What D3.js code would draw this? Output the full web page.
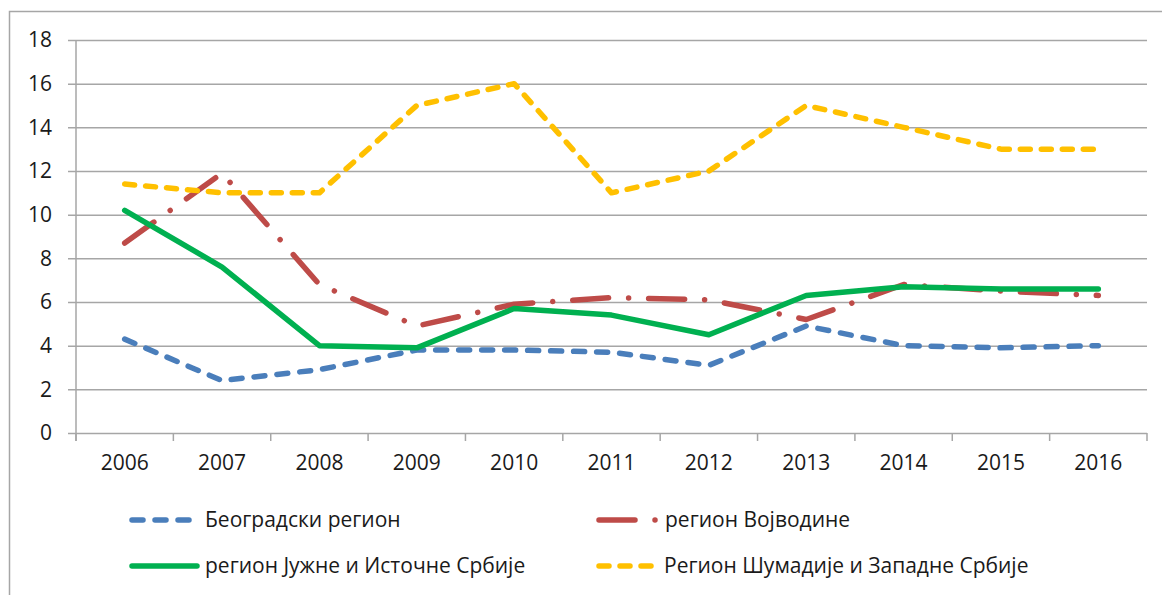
<!DOCTYPE html>
<html>
<head>
<meta charset="utf-8">
<script src="https://cdn.jsdelivr.net/npm/d3@7"></script>
<style>
  body { margin: 0; background: #fff; }
  text { font-family: "Open Sans", "Noto Sans", sans-serif; fill: #1a1a1a; }
</style>
</head>
<body>
<div id="chart"></div>
<script>
var years = ["2006", "2007", "2008", "2009", "2010", "2011", "2012", "2013", "2014", "2015", "2016"];
var yTicks = [0, 2, 4, 6, 8, 10, 12, 14, 16, 18];

var beograd = [4.3, 2.4, 2.9, 3.8, 3.8, 3.7, 3.1, 4.9, 4.0, 3.9, 4.0];
var vojvodina = [8.7, 11.9, 6.8, 4.9, 5.9, 6.2, 6.1, 5.2, 6.8, 6.5, 6.3];
var jug = [10.2, 7.6, 4.0, 3.9, 5.7, 5.4, 4.5, 6.3, 6.7, 6.6, 6.6];
var sumadija = [11.4, 11.0, 11.0, 15.0, 16.0, 11.0, 12.0, 15.0, 14.0, 13.0, 13.0];

var seriesNames = ["Београдски регион", "регион Војводине", "регион Јужне и Источне Србије", "Регион Шумадије и Западне Србије"];

var series = [
  { name: seriesNames[0], values: beograd, color: "#4a7ebb", dash: "11,12" },
  { name: seriesNames[1], values: vojvodina, color: "#be4b48", dash: "36,20,0.01,20" },
  { name: seriesNames[2], values: jug, color: "#00b050", dash: null },
  { name: seriesNames[3], values: sumadija, color: "#ffc000", dash: "10,11" }
];

var svgWidth = 1162;
var svgHeight = 595;
var fontSize = "21px";

var svg = d3.select("#chart")
  .append("svg")
  .attr("width", svgWidth)
  .attr("height", svgHeight);

// outer border
svg.append("rect")
  .attr("x", 9.5)
  .attr("y", 11.5)
  .attr("width", 1170)
  .attr("height", 600)
  .attr("fill", "none")
  .attr("stroke", "#a6a6a6")
  .attr("stroke-width", 1.5);

var plot = { left: 76, right: 1147, top: 40, bottom: 433 };

var xScale = d3.scaleBand()
  .domain(years)
  .range([plot.left, plot.right])
  .paddingInner(0)
  .paddingOuter(0);

var yScale = d3.scaleLinear()
  .domain([0, 18])
  .range([plot.bottom, plot.top]);

// gridlines + left axis
var leftAxis = d3.axisLeft(yScale)
  .tickValues(yTicks)
  .tickSize(-(plot.right - plot.left + 8))
  .tickPadding(16);

var yAxisG = svg.append("g")
  .attr("transform", `translate(${plot.left - 8}, 0)`)
  .call(leftAxis);
yAxisG.select(".domain").remove();
yAxisG.selectAll(".tick line")
  .attr("stroke", "#a6a6a6")
  .attr("stroke-width", 1.5);
yAxisG.selectAll(".tick text")
  .attr("font-size", fontSize)
  .attr("fill", "#1a1a1a");

// vertical axis line
svg.append("line")
  .attr("x1", plot.left).attr("x2", plot.left)
  .attr("y1", plot.top).attr("y2", plot.bottom + 8)
  .attr("stroke", "#a6a6a6")
  .attr("stroke-width", 1.5);

// bottom axis: category tick marks at band boundaries
var bounds = years.map(d => xScale(d)).concat([plot.right]);
svg.selectAll(".xtick")
  .data(bounds)
  .enter()
  .append("line")
  .attr("class", "xtick")
  .attr("x1", d => d).attr("x2", d => d)
  .attr("y1", plot.bottom).attr("y2", plot.bottom + 8)
  .attr("stroke", "#a6a6a6")
  .attr("stroke-width", 1.5);

var bottomAxis = d3.axisBottom(xScale)
  .tickSize(0)
  .tickPadding(22);
var xAxisG = svg.append("g")
  .attr("transform", `translate(0, ${plot.bottom})`)
  .call(bottomAxis);
xAxisG.select(".domain").remove();
xAxisG.selectAll(".tick text")
  .attr("font-size", fontSize)
  .attr("fill", "#1a1a1a");

// lines
var line = d3.line()
  .x((d, i) => xScale(years[i]) + xScale.bandwidth() / 2)
  .y(d => yScale(d));

series.forEach(function(s) {
  svg.append("path")
    .datum(s.values)
    .attr("d", line)
    .attr("fill", "none")
    .attr("stroke", s.color)
    .attr("stroke-width", 5.5)
    .attr("stroke-linecap", "round")
    .attr("stroke-linejoin", "round")
    .attr("stroke-dasharray", s.dash);
});

// legend
var legendPos = [
  { x: 132, y: 520, w: 58 },
  { x: 599, y: 520, w: 57 },
  { x: 132, y: 566, w: 65 },
  { x: 599, y: 566, w: 52 }
];
var legendText = [205, 665, 205, 664];

series.forEach(function(s, i) {
  var p = legendPos[i];
  var g = svg.append("g");
  g.append("line")
    .attr("x1", p.x).attr("x2", p.x + p.w)
    .attr("y1", p.y).attr("y2", p.y)
    .attr("stroke", s.color)
    .attr("stroke-width", 5.5)
    .attr("stroke-linecap", "round")
    .attr("stroke-dasharray", s.dash);
  g.append("text")
    .attr("x", legendText[i])
    .attr("y", p.y)
    .attr("dy", "0.35em")
    .attr("font-size", fontSize)
    .text(s.name);
});
</script>
</body>
</html>
